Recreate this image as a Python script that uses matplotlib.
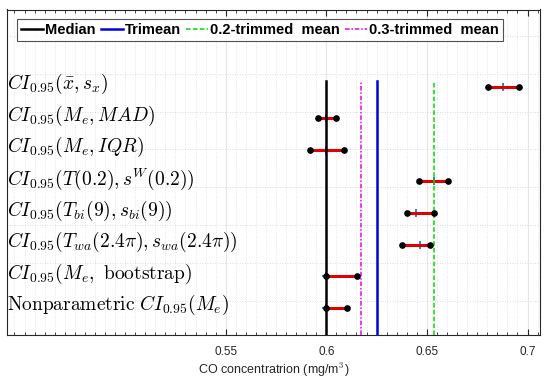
import numpy as np
import matplotlib
matplotlib.use("Agg")
import matplotlib.pyplot as plt

plt.rcParams['mathtext.fontset'] = 'cm'

labels = [
    r"$CI_{0.95}(\bar{x}, s_x)$",
    r"$CI_{0.95}(M_e, MAD)$",
    r"$CI_{0.95}(M_e, IQR)$",
    r"$CI_{0.95}(T(0.2), s^W(0.2))$",
    r"$CI_{0.95}(T_{bi}(9), s_{bi}(9))$",
    r"$CI_{0.95}(T_{wa}(2.4\pi), s_{wa}(2.4\pi))$",
    r"$CI_{0.95}(M_e,\ \mathrm{bootstrap})$",
    r"$\mathrm{Nonparametric}\ CI_{0.95}(M_e)$",
]
lower = [0.6802, 0.5960, 0.5919, 0.6463, 0.6399, 0.6377, 0.6000, 0.6000]
upper = [0.6956, 0.6046, 0.6087, 0.6607, 0.6534, 0.6516, 0.6154, 0.6101]
center = [0.6880, 0.6000, 0.6000, 0.6535, 0.6448, 0.6468, 0.6000, 0.6000]

median_val = 0.600
trimean_val = 0.625
trim02_val = 0.6533
trim03_val = 0.617

xticks = [0.55, 0.60, 0.65, 0.70]
xtick_labels = ["0.55", "0.6", "0.65", "0.7"]

fig = plt.figure(figsize=(5.5, 3.81), dpi=100)
ax = fig.add_axes([7/550, 1-335/381, 533/550, 325.5/381])

rows = np.arange(1, len(labels) + 1)
ax.set_xlim(0.4413, 0.7062)
ax.set_ylim(8.858, -1.443)

frame_col = '#262626'
line_top = (335 - 80.7) / 325.5
h1 = ax.axvline(median_val, ymin=0, ymax=line_top, color='black', lw=1.8, zorder=5)
h2 = ax.axvline(trimean_val, ymin=0, ymax=line_top, color='#0000dd', lw=1.8, zorder=5)
h3 = ax.axvline(trim02_val, ymin=0, ymax=line_top, color='#00dd00', lw=1.1, ls=(0, (3, 1.5)), zorder=5)
h4 = ax.axvline(trim03_val, ymin=0, ymax=line_top, color='#ee00ee', lw=1.1, ls=(0, (3, 1.2, 1, 1.2)), zorder=5)

for y, lo, hi, c in zip(rows, lower, upper, center):
    ax.plot([c], [y], '+', color='#0072BD', ms=6, mew=1.2, zorder=3)
    ax.plot([lo, hi], [y, y], color='#e00000', lw=2.2, zorder=4)
    ax.plot([lo, hi], [y, y], 'o', color='black', ms=3.8, zorder=6, lw=0)

for y, lab in zip(rows, labels):
    ax.text(0.4415, y - 0.08, lab, fontsize=14, ha='left', va='center', zorder=7)

# grid
ax.set_xticks(xticks)
ax.set_xticklabels(xtick_labels, fontsize=8.5, color=frame_col, family='Liberation Sans')
ax.set_xticks(np.arange(0.445, 0.7062, 0.005), minor=True)
gy = 1 + (36 - 86.7) / 31.6 + (37.8 / 31.6) * np.arange(8)
ax.set_yticks(gy)
ax.set_yticklabels([])
ax.tick_params(axis='y', length=0)
ax.tick_params(axis='x', which='both', direction='in', top=True, bottom=True, colors=frame_col, labelcolor=frame_col)
ax.tick_params(axis='x', which='major', length=4, pad=8)
ax.tick_params(axis='x', which='minor', length=2)
ax.grid(True, axis='x', which='major', color='#e6e6e6', lw=0.8)
ax.grid(True, axis='x', which='minor', color='#dddddd', lw=0.6, ls=(0, (1, 2)))
ax.grid(True, axis='y', which='major', color='#d0d0d0', lw=0.6, ls=(0, (1, 2)))
for s in ax.spines.values():
    s.set_color(frame_col)
    s.set_linewidth(0.8)

ax.set_xlabel("CO concentratrion (mg/m$^3$)", fontsize=9, color=frame_col, family='Liberation Sans', labelpad=2)

leg = ax.legend([h1, h2, h3, h4], ["Median", "Trimean", "0.2-trimmed  mean", "0.3-trimmed  mean"],
                loc='center', bbox_to_anchor=(0.475, 0.937), ncol=4, frameon=True, fancybox=False,
                handlelength=1.5, handletextpad=0.15, columnspacing=0.35, borderpad=0.3,
                borderaxespad=0,
                prop={'family': 'Liberation Sans', 'weight': 'bold', 'size': 10.5})
leg.get_frame().set_edgecolor('#262626')
leg.get_frame().set_linewidth(0.8)

fig.savefig("out.png", dpi=100)
